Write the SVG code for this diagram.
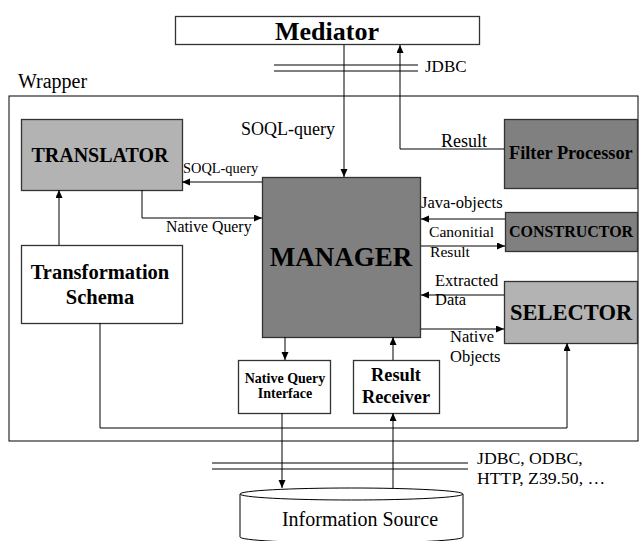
<svg xmlns="http://www.w3.org/2000/svg" width="639" height="541" viewBox="0 0 639 541">
<style>
text{font-family:"Liberation Serif","Times New Roman",serif;fill:#000}
.b{font-weight:bold}
.box{stroke:#333;stroke-width:1.3}
.dark{fill:#808080}
.light{fill:#b3b3b3}
.white{fill:#fff}
.ln{fill:none;stroke:#000;stroke-width:1}
.ar{marker-end:url(#ah)}
.c{text-anchor:middle}
</style>
<defs>
<marker id="ah" markerUnits="userSpaceOnUse" markerWidth="8" markerHeight="8" refX="8" refY="3.5" orient="auto">
<path d="M0,0 L8,3.5 L0,7 z" fill="#000"/>
</marker>
</defs>
<rect width="639" height="541" fill="#fff"/>

<g id="wrapper">
<rect x="9" y="96" width="629" height="345" fill="none" stroke="#000" stroke-width="1"/>
<text x="18" y="88" font-size="20">Wrapper</text>
</g>

<g id="mediator">
<rect class="box white" x="175.5" y="16.5" width="304" height="28"/>
<text class="b c" x="327" y="40" font-size="26">Mediator</text>
</g>

<g id="translator">
<rect class="box light" x="21.5" y="119.5" width="161" height="71"/>
<text class="b c" x="100" y="162" font-size="20">TRANSLATOR</text>
</g>

<g id="transformation-schema">
<rect class="box white" x="21.5" y="245.5" width="161" height="78"/>
<text class="b c" x="100" y="279" font-size="20.5">Transformation</text>
<text class="b c" x="100" y="304" font-size="20.5">Schema</text>
</g>

<g id="manager">
<rect class="box dark" x="262.5" y="177.5" width="158" height="160"/>
<text class="b c" x="341" y="266" font-size="27">MANAGER</text>
</g>

<g id="filter-processor">
<rect class="box dark" x="504.5" y="119.5" width="133" height="69"/>
<text class="b" x="509" y="159" font-size="18.3">Filter Processor</text>
</g>

<g id="constructor">
<rect class="box dark" x="505.5" y="212.5" width="132" height="39"/>
<text class="b" x="509" y="237" font-size="16">CONSTRUCTOR</text>
</g>

<g id="selector">
<rect class="box light" x="504.5" y="281.5" width="133" height="62"/>
<text class="b" x="510" y="320" font-size="22.5">SELECTOR</text>
</g>

<g id="native-query-interface">
<rect class="box white" x="238.5" y="360.5" width="92" height="53"/>
<text class="b c" x="285" y="383" font-size="14">Native Query</text>
<text class="b c" x="285" y="398" font-size="14">Interface</text>
</g>

<g id="result-receiver">
<rect class="box white" x="353.5" y="360.5" width="86" height="53"/>
<text class="b c" x="396" y="381" font-size="18.3">Result</text>
<text class="b c" x="396" y="403" font-size="18.3">Receiver</text>
</g>

<g id="information-source">
<path d="M240,494 V537 A111.5,6 0 0 0 463,537 V494" fill="#fff" stroke="#000" stroke-width="1"/>
<ellipse cx="351.5" cy="494" rx="111.5" ry="6" fill="#fff" stroke="#000" stroke-width="1"/>
<text class="c" x="360" y="526" font-size="20">Information Source</text>
</g>

<g id="connectors">
<path class="ln" d="M274,65 H418 M274,71 H418"/>
<path class="ln" d="M212,463 H468 M212,469 H468"/>
<path class="ln ar" d="M344,45 V177"/>
<path class="ln ar" d="M504,149 H400 V45"/>
<path class="ln ar" d="M262,182 H182"/>
<path class="ln ar" d="M142,190 V218 H262"/>
<path class="ln ar" d="M59,245 V190"/>
<path class="ln ar" d="M505,219 H421"/>
<path class="ln ar" d="M421,246 H505"/>
<path class="ln ar" d="M504,295 H421"/>
<path class="ln ar" d="M421,329 H504"/>
<path class="ln ar" d="M285,337 V360"/>
<path class="ln ar" d="M393,360 V337"/>
<path class="ln ar" d="M282,413 V488"/>
<path class="ln ar" d="M393,488 V413"/>
<path class="ln ar" d="M100,323 V428 H567 V343"/>
</g>

<g id="labels">
<text x="425" y="72" font-size="17">JDBC</text>
<text x="241" y="135" font-size="18">SOQL-query</text>
<text x="183" y="173" font-size="14.4">SOQL-query</text>
<text x="166" y="232" font-size="15.8">Native Query</text>
<text x="441" y="147" font-size="18">Result</text>
<text x="421" y="208" font-size="16.5">Java-objects</text>
<text x="429" y="237" font-size="15.6">Canonitial</text>
<text x="430" y="257" font-size="15.6">Result</text>
<text x="435" y="286" font-size="16.5">Extracted</text>
<text x="435" y="305" font-size="16.5">Data</text>
<text x="450" y="342" font-size="16.5">Native</text>
<text x="450" y="362" font-size="16.5">Objects</text>
<text x="477" y="464" font-size="17.7">JDBC, ODBC,</text>
<text x="477" y="484" font-size="17.7">HTTP, Z39.50, …</text>
</g>
</svg>
